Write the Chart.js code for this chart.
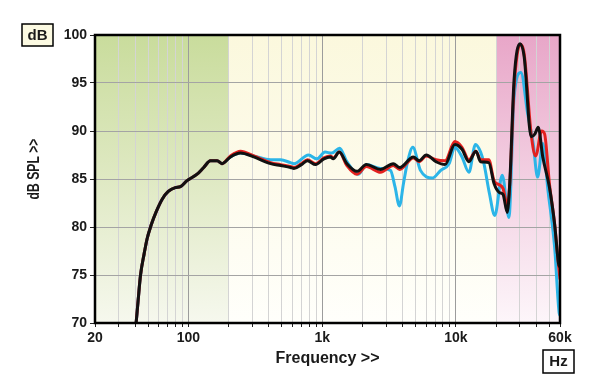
<!DOCTYPE html>
<html>
<head>
<meta charset="utf-8">
<script src="https://cdn.jsdelivr.net/npm/chart.js@4.4.1/dist/chart.umd.min.js"></script>
<style>
  html, body { margin: 0; padding: 0; background: #fff; }
  #wrap { width: 600px; height: 389px; }
</style>
</head>
<body>
<div id="wrap"><canvas id="chart"></canvas></div>
<script>
// measured responses (Hz / dB)
const blackHz = [40.6, 42, 43.8, 46.6, 49.1, 52.6, 57.4, 63.6, 70.6, 79.7, 87, 97, 116, 130, 146, 164, 178, 206, 245, 308, 411, 489, 580, 615, 700, 775, 893, 1030, 1150, 1210, 1340, 1530, 1820, 2140, 2730, 3400, 3800, 4800, 5300, 6000, 7100, 8300, 9800, 11100, 12500, 14100, 15300, 17600, 19300, 21100, 22500, 24200, 25300, 27200, 30200, 32400, 36500, 39000, 41200, 44600, 50100, 54700, 58500, 60000];
const blackDb = [70, 72.3, 75, 77.2, 78.8, 80.2, 81.6, 82.9, 83.7, 84.1, 84.2, 84.8, 85.5, 86.2, 86.9, 86.9, 86.6, 87.3, 87.7, 87.3, 86.6, 86.4, 86.2, 86.1, 86.5, 86.9, 86.5, 87.1, 87.3, 87.1, 87.8, 86.6, 85.8, 86.5, 86.0, 86.6, 86.2, 87.3, 86.9, 87.5, 86.8, 86.5, 88.6, 88.1, 86.8, 87.9, 86.8, 86.7, 84.5, 83.6, 83.4, 81.5, 84.8, 95.3, 99.1, 97.7, 89.4, 89.7, 90.4, 87.3, 84.1, 80.3, 76.2, 75.8];

const redHz = [40.6, 42, 43.8, 46.6, 49.1, 52.6, 57.4, 63.6, 70.6, 79.7, 87, 97, 116, 130, 146, 164, 178, 206, 245, 308, 411, 489, 580, 615, 700, 775, 893, 1030, 1150, 1210, 1340, 1530, 1820, 2140, 2730, 3400, 3800, 4800, 5300, 6000, 7100, 8300, 9800, 11100, 12500, 14100, 15300, 17600, 19300, 21100, 22500, 24200, 25300, 27200, 30200, 32400, 36500, 39500, 43700, 46000, 50100, 54700, 58500, 60000];
const redDb = [70, 72.3, 75, 77.2, 78.8, 80.2, 81.6, 82.9, 83.7, 84.1, 84.2, 84.8, 85.5, 86.2, 86.9, 86.9, 86.6, 87.4, 87.9, 87.4, 86.7, 86.5, 86.3, 86.2, 86.6, 87.0, 86.6, 87.2, 87.4, 87.2, 87.8, 86.4, 85.5, 86.3, 85.7, 86.4, 86.0, 87.2, 86.8, 87.4, 87.0, 86.9, 88.9, 88.3, 87.0, 87.9, 87.0, 87.0, 84.8, 84.4, 84.0, 82.3, 84.5, 94.5, 99.0, 98.0, 89.7, 87.4, 90.0, 89.7, 84.4, 80.3, 76.0, 74.6];

const cyanHz = [40.6, 42, 43.8, 46.6, 49.1, 52.6, 57.4, 63.6, 70.6, 79.7, 87, 97, 116, 130, 146, 164, 178, 206, 245, 308, 411, 489, 580, 615, 790, 913, 1050, 1180, 1350, 1530, 1870, 2140, 2730, 3240, 3500, 3780, 4050, 4320, 4760, 5430, 6650, 7700, 8900, 9800, 11100, 12500, 14000, 15300, 16200, 17800, 19500, 22200, 24900, 27200, 30600, 34400, 37800, 40800, 44600, 48800, 54700, 59200, 60000];
const cyanDb = [70, 72.3, 75, 77.2, 78.8, 80.2, 81.6, 82.9, 83.7, 84.1, 84.2, 84.8, 85.5, 86.2, 86.9, 86.9, 86.6, 87.3, 87.7, 87.4, 87.0, 87.0, 86.7, 86.6, 87.5, 87.1, 87.8, 87.7, 88.2, 86.8, 85.5, 86.5, 86.1, 85.9, 84.2, 82.2, 84.5, 86.6, 88.3, 85.9, 85.1, 85.9, 86.6, 88.3, 87.3, 85.7, 88.6, 87.8, 86.6, 83.5, 81.2, 85.4, 81.0, 93.5, 96.1, 91.8, 88.7, 85.2, 88.7, 83.8, 77.9, 71.0, 70.8];

// axes
const xTickValues = [20, 30, 40, 50, 60, 70, 80, 90, 100, 200, 300, 400, 500, 600, 700, 800, 900, 1000, 2000, 3000, 4000, 5000, 6000, 7000, 8000, 9000, 10000, 20000, 30000, 40000, 50000, 60000];
const xTickLabels = { 20: '20', 100: '100', 1000: '1k', 10000: '10k', 60000: '60k' };
const yTickValues = [70, 75, 80, 85, 90, 95, 100];

// shaded frequency bands: bass, mid, ultrasonic
const bandEdges = [[20, 200], [200, 20000], [20000, 60000]];

const pts = (hz, db) => hz.map((f, i) => ({ x: f, y: db[i] }));
const FONT = "'Liberation Sans', Arial, sans-serif";

const bandsPlugin = {
  id: 'bands',
  beforeDraw(chart) {
    const { ctx, chartArea: { top, bottom }, scales: { x } } = chart;
    const stops = [
      ['#c9dc9c', '#dfe9c3', '#f6f8ee'],
      ['#fbf8dd', '#fdfbeb', '#fffffb'],
      ['#e8a6c8', '#f3d0e2', '#fdf6fa']
    ];
    bandEdges.forEach((b, i) => {
      const x0 = x.getPixelForValue(b[0]);
      const x1 = x.getPixelForValue(b[1]);
      const g = ctx.createLinearGradient(0, top, 0, bottom);
      g.addColorStop(0, stops[i][0]);
      g.addColorStop(0.5, stops[i][1]);
      g.addColorStop(1, stops[i][2]);
      ctx.fillStyle = g;
      ctx.fillRect(x0, top, x1 - x0, bottom - top);
    });
  }
};

const framePlugin = {
  id: 'frame',
  afterDraw(chart) {
    const { ctx, chartArea: { left, right, top, bottom } } = chart;
    ctx.save();
    ctx.strokeStyle = '#000';
    ctx.lineWidth = 2.5;
    ctx.strokeRect(left, top, right - left, bottom - top);

    // unit boxes
    ctx.lineWidth = 1.5;
    ctx.fillStyle = '#fcfae2';
    ctx.fillRect(22, 24, 31, 22);
    ctx.strokeRect(22, 24, 31, 22);
    ctx.fillStyle = '#fff';
    ctx.fillRect(543, 350, 31, 23);
    ctx.strokeRect(543, 350, 31, 23);

    ctx.fillStyle = '#1a1a1a';
    ctx.textAlign = 'center';
    ctx.textBaseline = 'middle';
    ctx.font = 'bold 15px ' + FONT;
    ctx.fillText('dB', 37.5, 35.5);
    ctx.fillText('Hz', 558.5, 362);

    // axis titles
    ctx.font = 'bold 16px ' + FONT;
    ctx.fillText('Frequency >>', (left + right) / 2, 359);
    ctx.translate(35, 169);
    ctx.rotate(-Math.PI / 2);
    ctx.scale(0.76, 1);
    ctx.fillText('dB SPL >>', 0, 0);
    ctx.restore();
  }
};

new Chart(document.getElementById('chart'), {
  type: 'line',
  data: {
    datasets: [
      { label: 'black', data: pts(blackHz, blackDb), borderColor: '#111111', borderWidth: 3 },
      { label: 'red', data: pts(redHz, redDb), borderColor: '#e3211f', borderWidth: 3 },
      { label: 'cyan', data: pts(cyanHz, cyanDb), borderColor: '#2cb5e8', borderWidth: 3 }
    ]
  },
  options: {
    responsive: true,
    maintainAspectRatio: false,
    animation: false,
    devicePixelRatio: 1,
    layout: { padding: { top: 35, right: 40, left: 0, bottom: 0 } },
    elements: {
      point: { radius: 0 },
      line: { cubicInterpolationMode: 'monotone', borderCapStyle: 'round', borderJoinStyle: 'round' }
    },
    plugins: { legend: { display: false }, tooltip: { enabled: false } },
    scales: {
      x: {
        type: 'logarithmic',
        min: 20,
        max: 60000,
        afterBuildTicks: s => { s.ticks = xTickValues.map(v => ({ value: v })); },
        afterFit: s => { s.height = 66; },
        border: { display: false },
        grid: {
          color: c => (c.tick && [100, 1000, 10000].includes(c.tick.value)) ? '#9c9c9c' : '#d4d4d4',
          lineWidth: 1,
          tickLength: 4,
          tickColor: '#222'
        },
        ticks: {
          autoSkip: false,
          maxRotation: 0,
          padding: 3,
          color: '#1a1a1a',
          font: { family: FONT, weight: 'bold', size: 14 },
          callback: v => xTickLabels[v] ?? ''
        }
      },
      y: {
        min: 70,
        max: 100,
        afterBuildTicks: s => { s.ticks = yTickValues.map(v => ({ value: v })); },
        afterFit: s => { s.width = 95; },
        border: { display: false },
        grid: {
          color: '#a4a4a4',
          lineWidth: 1,
          tickLength: 5,
          tickColor: '#222'
        },
        ticks: {
          padding: 3,
          color: '#1a1a1a',
          font: { family: FONT, weight: 'bold', size: 14 },
          callback: v => String(v)
        }
      }
    }
  },
  plugins: [bandsPlugin, framePlugin]
});
</script>
</body>
</html>
